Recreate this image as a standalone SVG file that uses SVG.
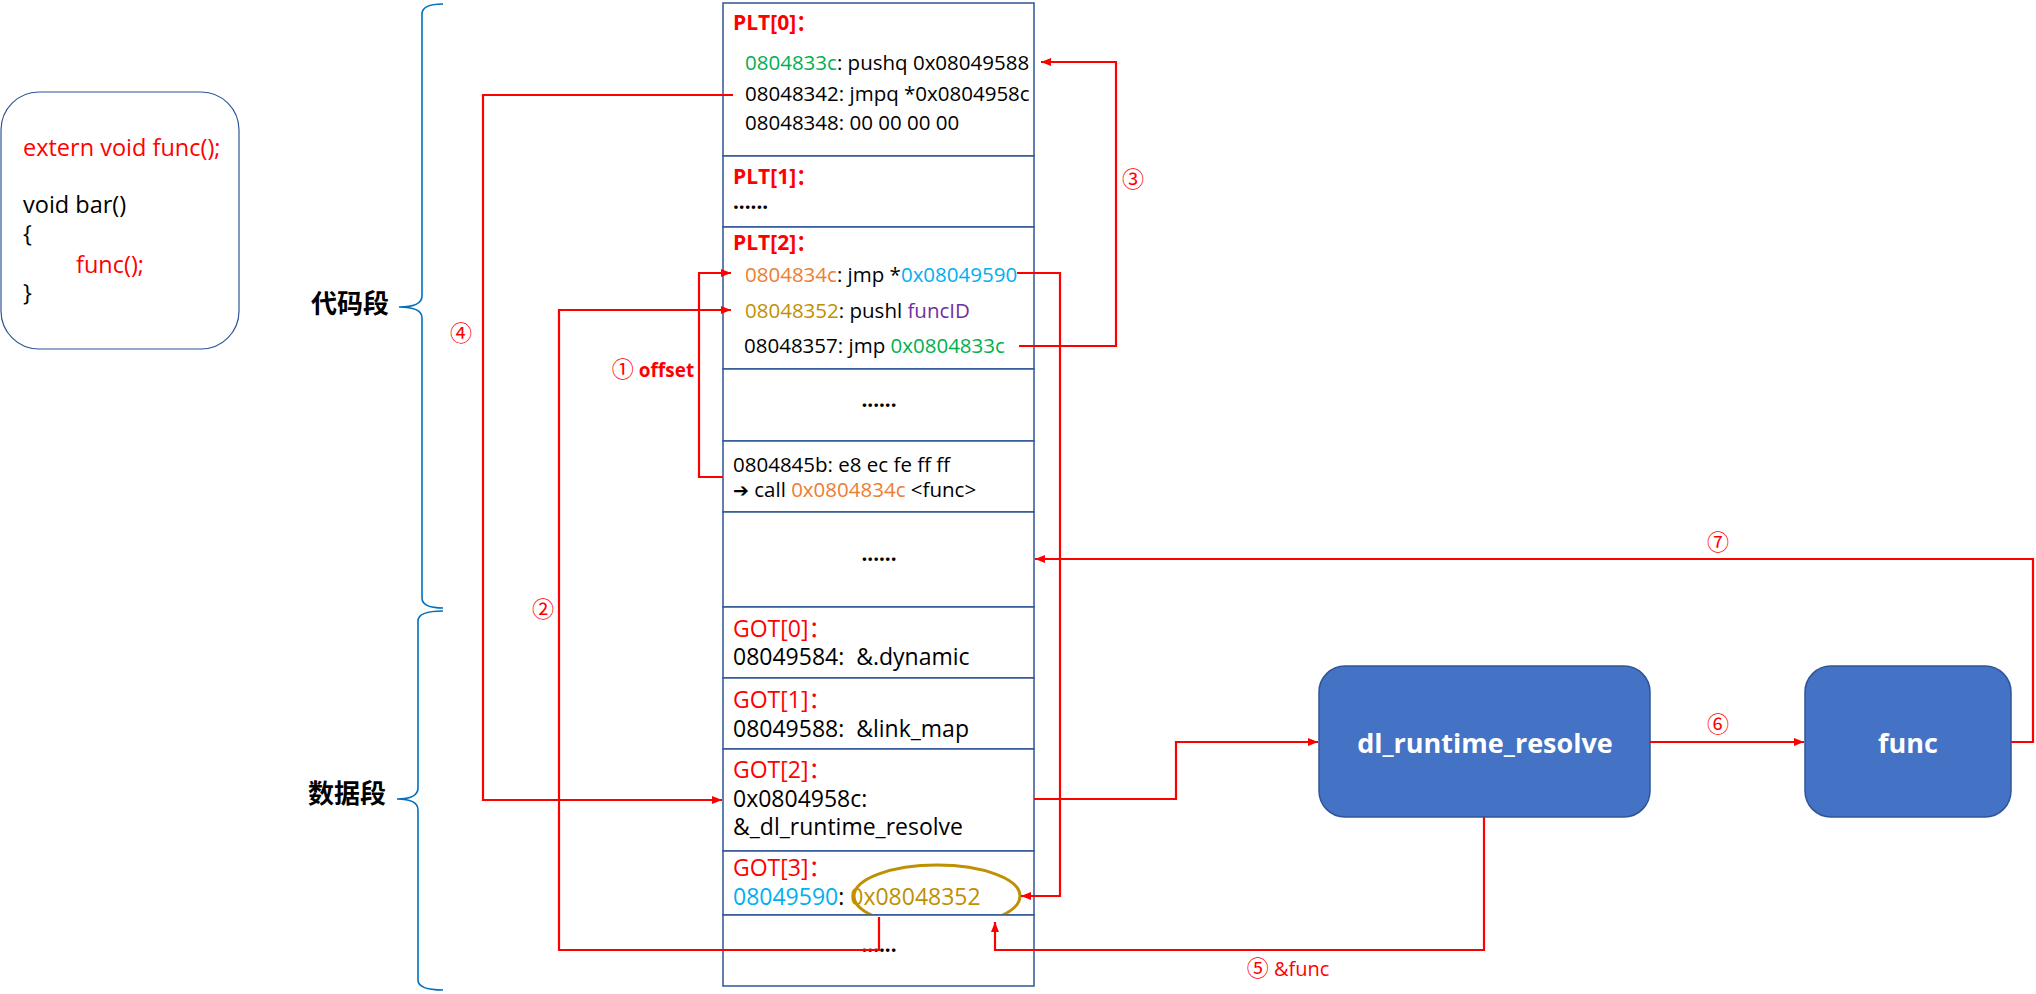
<svg xmlns="http://www.w3.org/2000/svg" width="2036" height="994" viewBox="0 0 2036 994">
<style>
text{font-family:'Open Sans','Noto Sans CJK SC',sans-serif;}
.t{font-size:20.5px;fill:#000;}
.g{font-size:23px;fill:#000;}
.lbl{font-size:21px;font-weight:bold;fill:#FF0000;}
.glbl{font-size:23px;fill:#FF0000;}
.src{font-size:23.5px;fill:#000;}
.num{font-family:'Noto Sans CJK SC',sans-serif;font-size:22px;fill:#FF0000;}
.cell{fill:#fff;stroke:#2F5597;stroke-width:1.5;}
.conn{fill:none;stroke:#FF0000;stroke-width:2.2;}
.brace{fill:none;stroke:#0070C0;stroke-width:1.6;}
.node{fill:#4472C4;stroke:#2F5597;stroke-width:1.5;}
.nt{fill:#fff;font-weight:bold;text-anchor:middle;}
.seg{font-family:'Noto Sans CJK SC',sans-serif;font-size:26px;font-weight:bold;fill:#000;}
.red{fill:#FF0000}.grn{fill:#00B050}.org{fill:#ED7D31}.blu{fill:#00B0F0}.gld{fill:#BF9000}.pur{fill:#7030A0}
</style>
<defs>
<marker id="ah" markerUnits="userSpaceOnUse" markerWidth="10" markerHeight="10" viewBox="0 0 10 10" refX="10" refY="5" orient="auto">
<path d="M0,1 L10,5 L0,9 z" fill="#FF0000"/>
</marker>
</defs>
<rect width="2036" height="994" fill="#fff"/>

<g id="source">
<rect x="1" y="92" width="238" height="257" rx="38" fill="#fff" stroke="#2F5597" stroke-width="1.2"/>
<text class="src red" x="23" y="156">extern void func();</text>
<text class="src" x="23" y="213">void bar()</text>
<text class="src" x="23" y="242">{</text>
<text class="src red" x="76" y="273">func();</text>
<text class="src" x="23" y="301">}</text>
</g>

<g id="segments">
<path class="brace" d="M443,4 Q422,4 422,14 V296 Q422,307 399,307 Q422,307 422,318 V598 Q422,608 443,608"/>
<path class="brace" d="M443,611 Q418,611 418,621 V788 Q418,799 397,799 Q418,799 418,810 V980 Q418,990 443,990"/>
<text class="seg" x="311" y="313">代码段</text>
<text class="seg" x="308" y="803">数据段</text>
</g>

<g id="plt0">
<rect class="cell" x="723" y="3" width="311" height="153"/>
<text class="lbl" x="733" y="30">PLT[0]：</text>
<text class="t" x="745" y="70"><tspan class="grn">0804833c</tspan>: pushq 0x08049588</text>
<text class="t" x="745" y="101">08048342: jmpq *0x0804958c</text>
<text class="t" x="745" y="130">08048348: 00 00 00 00</text>
</g>
<g id="plt1">
<rect class="cell" x="723" y="156" width="311" height="71"/>
<text class="lbl" x="733" y="184">PLT[1]：</text>
<text class="t" x="733" y="209" font-weight="bold">......</text>
</g>
<g id="plt2">
<rect class="cell" x="723" y="227" width="311" height="142"/>
<text class="lbl" x="733" y="250">PLT[2]：</text>
<text class="t" x="745" y="282"><tspan class="org">0804834c</tspan>: jmp *<tspan class="blu">0x08049590</tspan></text>
<text class="t" x="745" y="318"><tspan class="gld">08048352</tspan>: pushl <tspan class="pur">funcID</tspan></text>
<text class="t" x="744" y="353">08048357: jmp <tspan class="grn">0x0804833c</tspan></text>
</g>
<g id="plt-gap1">
<rect class="cell" x="723" y="369" width="311" height="72"/>
<text class="t" x="879" y="407" text-anchor="middle" font-weight="bold">......</text>
</g>
<g id="call">
<rect class="cell" x="723" y="441" width="311" height="71"/>
<text class="t" x="733" y="472">0804845b: e8 ec fe ff ff</text>
<text class="t" x="733" y="497"><tspan font-family="'DejaVu Sans',sans-serif" font-weight="bold" font-size="19">➔</tspan> call <tspan class="org">0x0804834c</tspan> &lt;func&gt;</text>
</g>
<g id="plt-gap2">
<rect class="cell" x="723" y="512" width="311" height="95"/>
<text class="t" x="879" y="561" text-anchor="middle" font-weight="bold">......</text>
</g>
<g id="got0">
<rect class="cell" x="723" y="607" width="311" height="71"/>
<text class="glbl" x="733" y="637">GOT[0]：</text>
<text class="g" x="733" y="665" xml:space="preserve">08049584:  &amp;.dynamic</text>
</g>
<g id="got1">
<rect class="cell" x="723" y="678" width="311" height="71"/>
<text class="glbl" x="733" y="708">GOT[1]：</text>
<text class="g" x="733" y="737" xml:space="preserve">08049588:  &amp;link_map</text>
</g>
<g id="got2">
<rect class="cell" x="723" y="749" width="311" height="102"/>
<text class="glbl" x="733" y="778">GOT[2]：</text>
<text class="g" x="733" y="807">0x0804958c:</text>
<text class="g" x="733" y="835">&amp;_dl_runtime_resolve</text>
</g>
<g id="got3">
<rect class="cell" x="723" y="851" width="311" height="64"/>
<text class="glbl" x="733" y="876">GOT[3]：</text>
<text class="g" x="733" y="905"><tspan class="blu">08049590</tspan>: <tspan class="gld">0x08048352</tspan></text>
<ellipse cx="937" cy="896" rx="83" ry="31" fill="none" stroke="#BF9000" stroke-width="3"/>
</g>
<g id="got-tail">
<rect class="cell" x="723" y="915" width="311" height="71"/>
<text class="t" x="879" y="952" text-anchor="middle" font-weight="bold">......</text>
</g>

<g id="dl_runtime_resolve">
<rect class="node" x="1319" y="666" width="331" height="151" rx="26"/>
<text class="nt" x="1485" y="753" font-size="27">dl_runtime_resolve</text>
</g>
<g id="func">
<rect class="node" x="1805" y="666" width="206" height="151" rx="26"/>
<text class="nt" x="1908" y="753" font-size="27">func</text>
</g>

<g id="connectors">
<path class="conn" d="M723,477 H699 V273 H731" marker-end="url(#ah)"/>
<path class="conn" d="M879,917 V950 H559 V310 H731" marker-end="url(#ah)"/>
<path class="conn" d="M1019,346 H1116 V62 H1041" marker-end="url(#ah)"/>
<path class="conn" d="M733,95 H483 V800 H722" marker-end="url(#ah)"/>
<path class="conn" d="M1017,273 H1060 V896 H1021" marker-end="url(#ah)"/>
<path class="conn" d="M1034,799 H1176 V742 H1318" marker-end="url(#ah)"/>
<path class="conn" d="M1484,817 V950 H995 V922" marker-end="url(#ah)"/>
<path class="conn" d="M1650,742 H1804" marker-end="url(#ah)"/>
<path class="conn" d="M2011,742 H2033 V559 H1035" marker-end="url(#ah)"/>
<text class="num" x="653" y="377" text-anchor="middle"><tspan>①</tspan><tspan font-family="'Open Sans',sans-serif" font-weight="bold" font-size="19"> offset</tspan></text>
<text class="num" x="543" y="617" text-anchor="middle">②</text>
<text class="num" x="1133" y="187" text-anchor="middle">③</text>
<text class="num" x="461" y="341" text-anchor="middle">④</text>
<text class="num" x="1288" y="976" text-anchor="middle"><tspan>⑤</tspan><tspan font-family="'Open Sans',sans-serif" font-size="20"> &amp;func</tspan></text>
<text class="num" x="1718" y="732" text-anchor="middle">⑥</text>
<text class="num" x="1718" y="550" text-anchor="middle">⑦</text>
</g>
</svg>
